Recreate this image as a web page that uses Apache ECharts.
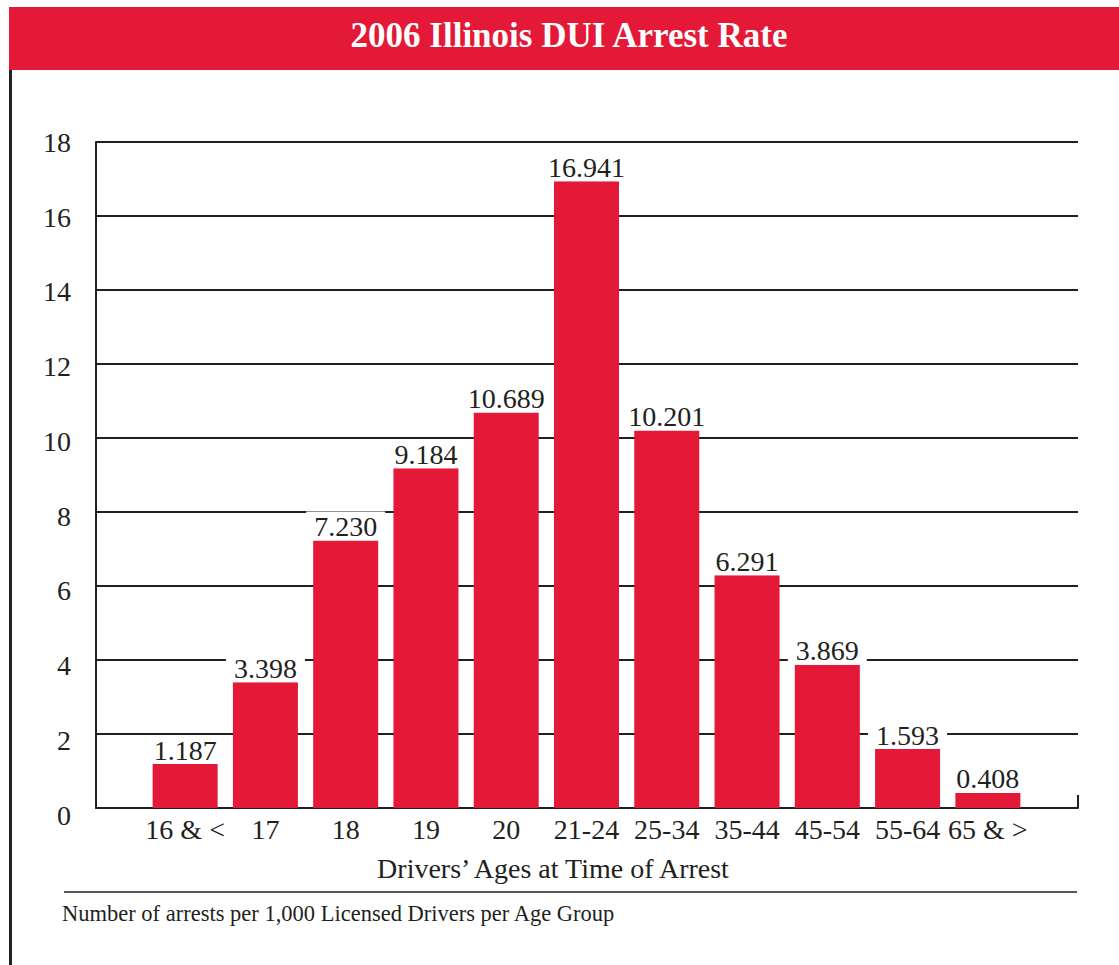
<!DOCTYPE html>
<html>
<head>
<meta charset="utf-8">
<script src="https://cdn.jsdelivr.net/npm/echarts@6/dist/echarts.min.js"></script>
<style>
html,body{margin:0;padding:0;background:#fff;}
#chart{width:1119px;height:965px;}
</style>
</head>
<body>
<div id="chart"></div>
<script>
const titleText = '2006 Illinois DUI Arrest Rate';
const xAxisName = 'Drivers\u2019 Ages at Time of Arrest';
const footnote = 'Number of arrests per 1,000 Licensed Drivers per Age Group';
const categories = ['16 & <', '17', '18', '19', '20', '21-24', '25-34', '35-44', '45-54', '55-64', '65 & >'];
const arrestRates = [1.187, 3.398, 7.230, 9.184, 10.689, 16.941, 10.201, 6.291, 3.869, 1.593, 0.408];
const yMin = 0, yMax = 18, yStep = 2;

const RED = '#E31937';
const INK = '#231F20';
const SERIF = '"Liberation Serif", "Times New Roman", serif';

const chart = echarts.init(document.getElementById('chart'), null, {renderer: 'svg'});

chart.setOption({
  backgroundColor: '#fff',
  animation: false,
  title: [
    {
      text: titleText, left: 569, top: 15, textAlign: 'center', padding: 0,
      textStyle: {color: '#fff', fontFamily: SERIF, fontWeight: 'bold', fontSize: 35, lineHeight: 40}
    },
    {
      text: xAxisName, left: 553, top: 853, textAlign: 'center', padding: 0,
      textStyle: {color: INK, fontFamily: SERIF, fontWeight: 'normal', fontSize: 28, lineHeight: 30}
    },
    {
      text: footnote, left: 62, top: 901, padding: 0,
      textStyle: {color: INK, fontFamily: SERIF, fontWeight: 'normal', fontSize: 22.5, lineHeight: 25}
    }
  ],
  graphic: [
    {type: 'rect', z: -1, shape: {x: 9, y: 7, width: 1110, height: 63}, style: {fill: RED}},
    {type: 'line', shape: {x1: 10.5, y1: 70, x2: 10.5, y2: 965}, style: {stroke: INK, lineWidth: 3}},
    {type: 'line', shape: {x1: 64, y1: 892, x2: 1077, y2: 892}, style: {stroke: INK, lineWidth: 1.5}}
  ],
  grid: [
    {left: 145, right: 91, top: 142, bottom: 157},
    {left: 96, right: 41, top: 142, bottom: 157},
    {left: 96, right: 41, top: 142.5, bottom: 150}
  ],
  xAxis: [
    {
      gridIndex: 0, type: 'category', data: categories,
      axisLine: {show: false}, axisTick: {show: false},
      axisLabel: {color: INK, fontFamily: SERIF, fontSize: 28, lineHeight: 28, margin: 7, interval: 0}
    },
    {
      gridIndex: 1, type: 'value', min: 0, max: 1, interval: 1,
      axisLine: {show: true, onZero: false, lineStyle: {color: INK, width: 2}},
      axisTick: {show: true, inside: true, length: 13, lineStyle: {color: INK, width: 2}},
      axisLabel: {show: false}, splitLine: {show: false}
    },
    {
      gridIndex: 2, type: 'value', min: 0, max: 1, show: false
    }
  ],
  yAxis: [
    {gridIndex: 0, type: 'value', min: yMin, max: yMax, interval: yStep, show: false},
    {
      gridIndex: 1, type: 'value', min: yMin, max: yMax, interval: yStep,
      axisLine: {show: true, onZero: false, lineStyle: {color: INK, width: 2}},
      axisTick: {show: false},
      axisLabel: {show: false},
      splitLine: {show: true, lineStyle: {color: INK, width: 2}}
    },
    {
      gridIndex: 2, type: 'value', min: yMin, max: yMax, interval: yStep,
      axisLine: {show: false}, axisTick: {show: false}, splitLine: {show: false},
      axisLabel: {color: INK, fontFamily: SERIF, fontSize: 28, margin: 25}
    }
  ],
  series: [
    {
      type: 'bar', xAxisIndex: 0, yAxisIndex: 0,
      data: arrestRates, barWidth: 65,
      itemStyle: {color: RED},
      label: {
        show: true, position: 'top', distance: 0,
        formatter: p => p.value.toFixed(3),
        color: INK, fontFamily: SERIF, fontSize: 28, lineHeight: 28,
        backgroundColor: '#fff', padding: [1, 8, 0, 8]
      }
    }
  ]
});
</script>
</body>
</html>
